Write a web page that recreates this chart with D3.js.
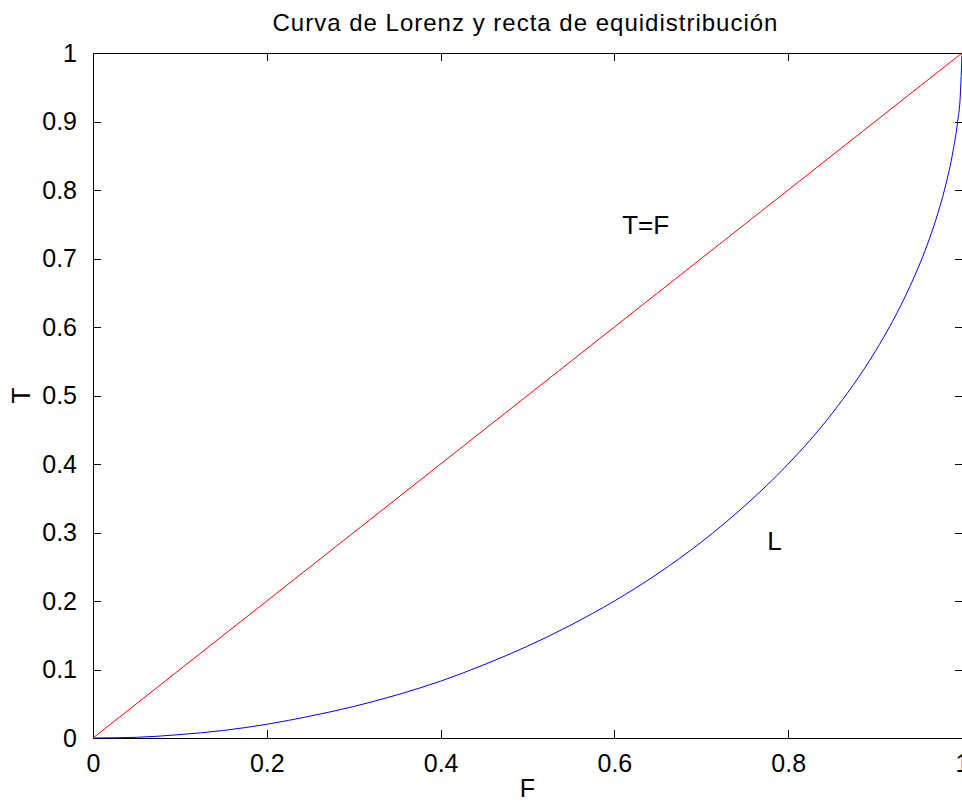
<!DOCTYPE html>
<html>
<head>
<meta charset="utf-8">
<script src="https://cdn.jsdelivr.net/npm/d3@7"></script>
<style>
  html, body { margin: 0; padding: 0; background: #fff; overflow: hidden; }
  svg { display: block; font-family: "Liberation Sans", Arial, sans-serif; }
</style>
</head>
<body>
<svg id="chart" width="962" height="804"></svg>
<script>
// Equal-distribution line T = F
const diagF = [0, 1];
const diagT = [0, 1];

// Lorenz curve L(F)
const lorenzF = [0, 0.05, 0.1, 0.15, 0.2, 0.25, 0.3, 0.35, 0.4, 0.45, 0.5, 0.55, 0.6, 0.65, 0.7,
                 0.75, 0.8, 0.85, 0.9, 0.92, 0.94, 0.96, 0.97, 0.98, 0.99, 0.995, 0.998, 1];
const lorenzL = [0, 0.001, 0.005, 0.011, 0.020, 0.032, 0.046, 0.063, 0.083, 0.107, 0.134, 0.165, 0.200, 0.240, 0.286,
                 0.339, 0.400, 0.473, 0.564, 0.608, 0.659, 0.720, 0.757, 0.801, 0.859, 0.900, 0.937, 1];

// Axis ticks
const xTicks = [0, 0.2, 0.4, 0.6, 0.8, 1];
const yTicks = [0, 0.1, 0.2, 0.3, 0.4, 0.5, 0.6, 0.7, 0.8, 0.9, 1];

// In-plot text labels
const noteText = ["T=F", "L"];
const noteF = [0.609, 0.776];
const noteT = [0.75, 0.288];

const titleText = "Curva de Lorenz y recta de equidistribución";
const xLabel = "F";
const yLabel = "T";

const svg = d3.select("#chart");
const box = { left: 93, top: 53, right: 962, bottom: 738 };

const x = d3.scaleLinear().domain([0, 1]).range([box.left, box.right]);
const y = d3.scaleLinear().domain([0, 1]).range([box.bottom, box.top]);

const tickLen = 8;
const tickFont = 25;

// Axes with inward ticks on all four sides
const axisG = svg.append("g").attr("shape-rendering", "crispEdges");

function styleAxis(g) {
  g.select(".domain").attr("stroke", "#000").attr("stroke-width", 1);
  g.selectAll(".tick line").attr("stroke", "#000").attr("stroke-width", 1);
  g.selectAll(".tick text").attr("fill", "#000")
    .style("font-family", "'Liberation Sans', Arial, sans-serif")
    .style("font-size", tickFont + "px");
}

const fmt = d => d3.format("~g")(d);

// bottom
axisG.append("g")
  .attr("transform", `translate(0,${box.bottom})`)
  .call(d3.axisBottom(x).tickValues(xTicks).tickFormat(fmt).tickSizeInner(-tickLen).tickSizeOuter(0).tickPadding(tickLen + 8))
  .call(styleAxis);

// top
axisG.append("g")
  .attr("transform", `translate(0,${box.top})`)
  .call(d3.axisTop(x).tickValues(xTicks).tickFormat("").tickSizeInner(-tickLen).tickSizeOuter(0))
  .call(styleAxis);

// left
axisG.append("g")
  .attr("transform", `translate(${box.left},0)`)
  .call(d3.axisLeft(y).tickValues(yTicks).tickFormat(fmt).tickSizeInner(-tickLen).tickSizeOuter(0).tickPadding(tickLen + 8))
  .call(styleAxis);

// right (its frame line sits just past the page edge)
axisG.append("g")
  .attr("transform", `translate(${box.right + 1},0)`)
  .call(d3.axisRight(y).tickValues(yTicks).tickFormat("").tickSizeInner(-tickLen).tickSizeOuter(0))
  .call(styleAxis);

// Lines
const line = d3.line().x(d => x(d[0])).y(d => y(d[1]));

svg.append("path")
  .datum(d3.zip(diagF, diagT))
  .attr("fill", "none")
  .attr("stroke", "#ff0000")
  .attr("stroke-width", 1)
  .attr("d", line);

svg.append("path")
  .datum(d3.zip(lorenzF, lorenzL))
  .attr("fill", "none")
  .attr("stroke", "#0000ff")
  .attr("stroke-width", 1)
  .attr("d", line.curve(d3.curveMonotoneX));

// In-plot labels
svg.append("g").selectAll("text")
  .data(d3.range(noteText.length))
  .join("text")
  .attr("x", i => x(noteF[i]))
  .attr("y", i => y(noteT[i]))
  .attr("dy", "0.36em")
  .attr("font-size", 26)
  .attr("fill", "#000")
  .text(i => noteText[i]);

// Title
svg.append("text")
  .attr("x", (box.left + box.right) / 2 - 2)
  .attr("y", 31)
  .attr("text-anchor", "middle")
  .attr("font-size", 24)
  .attr("letter-spacing", "1px")
  .attr("fill", "#000")
  .text(titleText);

// Axis labels
svg.append("text")
  .attr("x", (box.left + box.right) / 2)
  .attr("y", 797)
  .attr("text-anchor", "middle")
  .attr("font-size", 25)
  .attr("fill", "#000")
  .text(xLabel);

svg.append("text")
  .attr("transform", `translate(30,${(box.top + box.bottom) / 2}) rotate(-90)`)
  .attr("text-anchor", "middle")
  .attr("font-size", 26)
  .attr("fill", "#000")
  .text(yLabel);
</script>
</body>
</html>
